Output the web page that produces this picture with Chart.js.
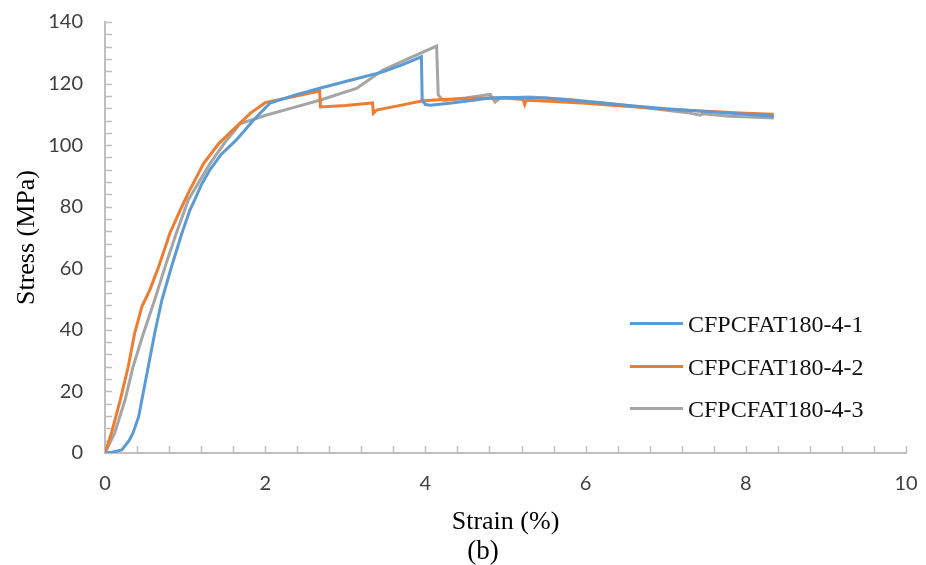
<!DOCTYPE html>
<html>
<head>
<meta charset="utf-8">
<script src="https://cdn.jsdelivr.net/npm/chart.js@4/dist/chart.umd.min.js"></script>
<style>
  html, body { margin: 0; padding: 0; background: #fff; }
  #wrap { position: relative; width: 926px; height: 565px; }
  #legend { position: absolute; left: 630px; top: 303px; font-family: "Liberation Serif", "Times New Roman", serif; font-size: 24px; color: #111; }
  .item { position: relative; height: 42.5px; line-height: 42.5px; white-space: nowrap; }
  .swatch { position: absolute; left: 0; top: 19px; width: 53px; height: 3px; }
  .lbl { position: absolute; left: 58px; top: 0; }
  #caption { position: absolute; left: 0; width: 966px; top: 536px; height: 28px; line-height: 28px; text-align: center; font-family: "Liberation Serif", "Times New Roman", serif; font-size: 27px; color: #000; }
</style>
</head>
<body>
<div id="wrap">
  <canvas id="c" width="926" height="565"></canvas>
  <div id="legend"></div>
  <div id="caption"></div>
</div>
<script>
// ---- data (strain %, stress MPa) ----
const captionText = "(b)";
const seriesNames = ["CFPCFAT180-4-1", "CFPCFAT180-4-2", "CFPCFAT180-4-3"];
const seriesColors = ["#5B9BD5", "#ED7D31", "#A5A5A5"];

const strain1 = [0, 0.1, 0.21, 0.3, 0.35, 0.42, 0.46, 0.54, 0.62, 0.71, 0.83, 0.96, 1.06, 1.12, 1.2, 1.31, 1.45, 1.64, 1.85, 2.06, 2.4, 2.68, 3.1, 3.47, 3.7, 3.95, 3.96, 4.0, 4.06, 4.3, 4.6, 4.8, 5.0, 5.5, 6.0, 6.5, 7.0, 7.5, 8.0, 8.35];
const stress1 = [0, 0.3, 1, 4, 6.5, 11.8, 17.2, 28, 38.9, 49.7, 60.5, 71.4, 78.9, 82.2, 87, 92, 97, 101.7, 108, 113.7, 116.5, 118.5, 121.3, 123.8, 126, 128.7, 114.6, 113.2, 113, 113.6, 114.6, 115.3, 115.5, 115.3, 114.2, 113, 111.8, 110.9, 110, 109.4];

const strain2 = [0, 0.08, 0.19, 0.29, 0.37, 0.46, 0.56, 0.67, 0.81, 0.94, 1.05, 1.23, 1.42, 1.64, 1.82, 2.0, 2.3, 2.68, 2.69, 3.0, 3.34, 3.35, 3.39, 3.7, 3.97, 4.27, 4.6, 5.0, 5.22, 5.24, 5.26, 5.6, 6.0, 6.5, 7.0, 7.5, 8.0, 8.35];
const stress2 = [0, 6.4, 17.2, 28, 38.9, 47.5, 53, 60.5, 71.4, 79, 85, 94, 100.5, 106, 110.5, 113.8, 115.5, 117.6, 112.4, 112.9, 113.7, 110.4, 111.4, 113, 114.4, 114.9, 115.2, 115.3, 114.8, 113.2, 114.6, 114.2, 113.6, 112.6, 111.7, 111, 110.4, 110];

const strain3 = [0, 0.12, 0.25, 0.35, 0.48, 0.62, 0.75, 0.89, 1.04, 1.31, 1.5, 1.69, 2.02, 2.35, 2.68, 3.14, 3.47, 3.8, 4.14, 4.16, 4.22, 4.27, 4.5, 4.81, 4.87, 4.93, 5.3, 5.8, 6.3, 6.8, 7.3, 7.43, 7.46, 7.8, 8.35];
const stress3 = [0, 6.4, 17.2, 28, 38.9, 49.7, 60.5, 71.4, 82.2, 94, 101, 107, 109.8, 112.2, 114.6, 118.4, 124.4, 128.3, 132.2, 116.3, 114.6, 114.6, 115.3, 116.5, 114, 115.3, 115.6, 114.8, 113.5, 112, 110.4, 109.7, 110.2, 109.4, 108.8];

const xTickStep = 2, xMinorStep = 0.4;
const yTickStep = 20, yMinorStep = 4;

function pts(xs, ys) { return xs.map((x, i) => ({ x: x, y: ys[i] })); }
const allStrain = [strain1, strain2, strain3];
const allStress = [stress1, stress2, stress3];

const datasets = seriesNames.map((name, i) => ({
  label: name,
  data: pts(allStrain[i], allStress[i]),
  borderColor: seriesColors[i],
  backgroundColor: seriesColors[i],
  borderWidth: 3,
  showLine: true,
  pointRadius: 0,
  tension: 0,
  fill: false
}));

const minorTicks = {
  id: 'minorTicks',
  beforeDatasetsDraw(chart) {
    const ctx = chart.ctx, xs = chart.scales.x, ys = chart.scales.y;
    ctx.save();
    ctx.strokeStyle = '#BFBFBF';
    ctx.lineWidth = 1.5;
    ctx.beginPath();
    for (let v = xs.min; v <= xs.max + 1e-9; v += xMinorStep) {
      const px = Math.round(xs.getPixelForValue(v)) + 0.5;
      ctx.moveTo(px, ys.bottom);
      ctx.lineTo(px, ys.bottom - 7);
    }
    for (let v = ys.min; v <= ys.max + 1e-9; v += yMinorStep) {
      const py = Math.round(ys.getPixelForValue(v)) + 0.5;
      ctx.moveTo(xs.left, py);
      ctx.lineTo(xs.left + 7, py);
    }
    ctx.stroke();
    ctx.restore();
  }
};

const tickFont = { family: 'Lato, "Open Sans", sans-serif', size: 20 };
const titleFont = { family: '"Liberation Serif", "Times New Roman", serif', size: 26 };

new Chart(document.getElementById('c'), {
  type: 'scatter',
  data: { datasets: datasets },
  options: {
    responsive: false,
    animation: false,
    layout: { padding: { top: 22, right: 20, left: 0, bottom: 27 } },
    plugins: {
      legend: { display: false },
      tooltip: { enabled: false },
      title: { display: false }
    },
    scales: {
      x: {
        type: 'linear',
        min: 0, max: 10,
        ticks: { stepSize: xTickStep, color: '#404040', font: tickFont, padding: 19 },
        grid: { display: true, drawOnChartArea: false, drawTicks: false },
        border: { display: true, color: '#BFBFBF', width: 2 },
        title: { display: true, text: 'Strain (%)', color: '#000', font: titleFont, padding: { top: 0, bottom: 0 } },
        afterFit(scale) { scale.height = 85; scale.paddingLeft = 0; scale.paddingRight = 0; }
      },
      y: {
        type: 'linear',
        min: 0, max: 140,
        ticks: { stepSize: yTickStep, color: '#404040', font: tickFont, padding: 22 },
        grid: { display: true, drawOnChartArea: false, drawTicks: false },
        border: { display: true, color: '#BFBFBF', width: 2 },
        title: { display: true, text: 'Stress (MPa)', color: '#000', font: titleFont, padding: { top: 12, bottom: 0 } },
        afterFit(scale) { scale.width = 105; scale.paddingTop = 0; scale.paddingBottom = 0; }
      }
    }
  },
  plugins: [minorTicks]
});

document.getElementById('caption').textContent = captionText;

// HTML legend built from the datasets
const lg = document.getElementById('legend');
datasets.forEach(ds => {
  const it = document.createElement('div'); it.className = 'item';
  const sw = document.createElement('span'); sw.className = 'swatch'; sw.style.background = ds.borderColor;
  const tx = document.createElement('span'); tx.className = 'lbl'; tx.textContent = ds.label;
  it.appendChild(sw); it.appendChild(tx); lg.appendChild(it);
});
</script>
</body>
</html>
